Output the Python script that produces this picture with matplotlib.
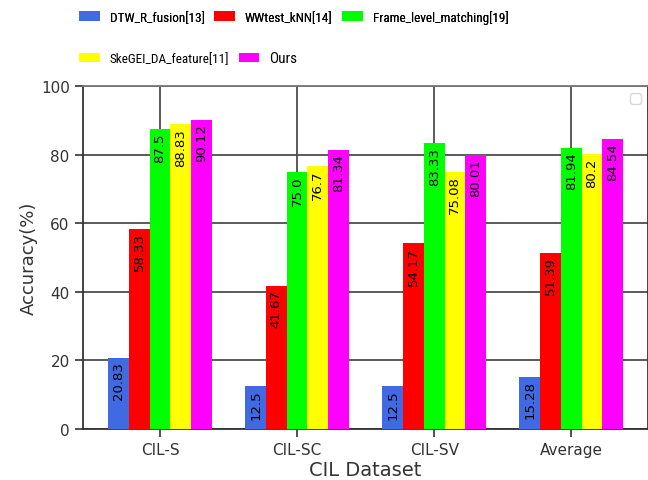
import matplotlib
matplotlib.use('Agg')
import matplotlib.pyplot as plt
import numpy as np

datasets = ['CIL-S', 'CIL-SC', 'CIL-SV', 'Average']
methods = ['DTW_R_fusion[13]', 'WWtest_kNN[14]', 'Frame_level_matching[19]',
           'SkeGEI_DA_feature[11]', 'Ours']
colors = ['royalblue', 'red', 'lime', 'yellow', 'magenta']

dtw = [20.83, 12.5, 12.5, 15.28]
wwtest = [58.33, 41.67, 54.17, 51.39]
frame = [87.5, 75.0, 83.33, 81.94]
skegei = [88.83, 76.7, 75.08, 80.2]
ours = [90.12, 81.34, 80.01, 84.54]
series = [dtw, wwtest, frame, skegei, ours]
value_text = [['20.83', '12.5', '12.5', '15.28'],
              ['58.33', '41.67', '54.17', '51.39'],
              ['87.5', '75.0', '83.33', '81.94'],
              ['88.83', '76.7', '75.08', '80.2'],
              ['90.12', '81.34', '80.01', '84.54']]

fig = plt.figure(figsize=(6.48, 4.81), dpi=100)
ax = fig.add_axes([0.128, 0.106, 0.872, 0.713])

x = np.arange(len(datasets))
w = 0.151
handles = []
for i, vals in enumerate(series):
    pos = x + (i - 2) * w
    bars = ax.bar(pos, vals, w, color=colors[i], zorder=3)
    handles.append(bars)
    for p, v, t in zip(pos, vals, value_text[i]):
        ax.text(p, v - 1.0, t, rotation=90, ha='center', va='top',
                fontsize=9.5, color='black', zorder=4)

ax.set_xlim(-0.562, 3.56)
ax.set_ylim(0, 100)
ax.set_xticks(x)
ax.set_xticklabels(datasets)
ax.set_yticks([0, 20, 40, 60, 80, 100])
ax.grid(True, color='#4d4d4d', linewidth=1.3, zorder=0)
ax.tick_params(labelsize=11, length=6, width=1.2, colors='#333333', labelcolor='#333333')
for s in ax.spines.values():
    s.set_color('#333333')
    s.set_linewidth(1.3)
ax.spines['top'].set_color('#777777')
ax.set_xlabel('CIL Dataset', fontsize=14, color='#333333', labelpad=2)
ax.set_ylabel('Accuracy(%)', fontsize=13, color='#333333', labelpad=2)

# empty legend left on the axes
ax.legend(handles=[], loc='upper right')

fam = ['Roboto Condensed', 'DejaVu Sans']
leg1 = fig.legend(handles[:3], methods[:3], loc='center left', bbox_to_anchor=(0.112, 0.963),
                  ncol=3, frameon=False, handlelength=1.55, handleheight=0.75,
                  handletextpad=0.75, columnspacing=0.75, borderpad=0,
                  prop={'family': fam, 'size': 9.5})
fig.add_artist(leg1)
leg2 = fig.legend(handles[3:], methods[3:], loc='center left', bbox_to_anchor=(0.112, 0.877),
                  ncol=2, frameon=False, handlelength=1.55, handleheight=0.75,
                  handletextpad=0.75, columnspacing=0.75, borderpad=0,
                  prop={'family': fam, 'size': 9.5})
leg2.get_texts()[1].set_fontsize(11)

fig.savefig('out.png', dpi=100)
